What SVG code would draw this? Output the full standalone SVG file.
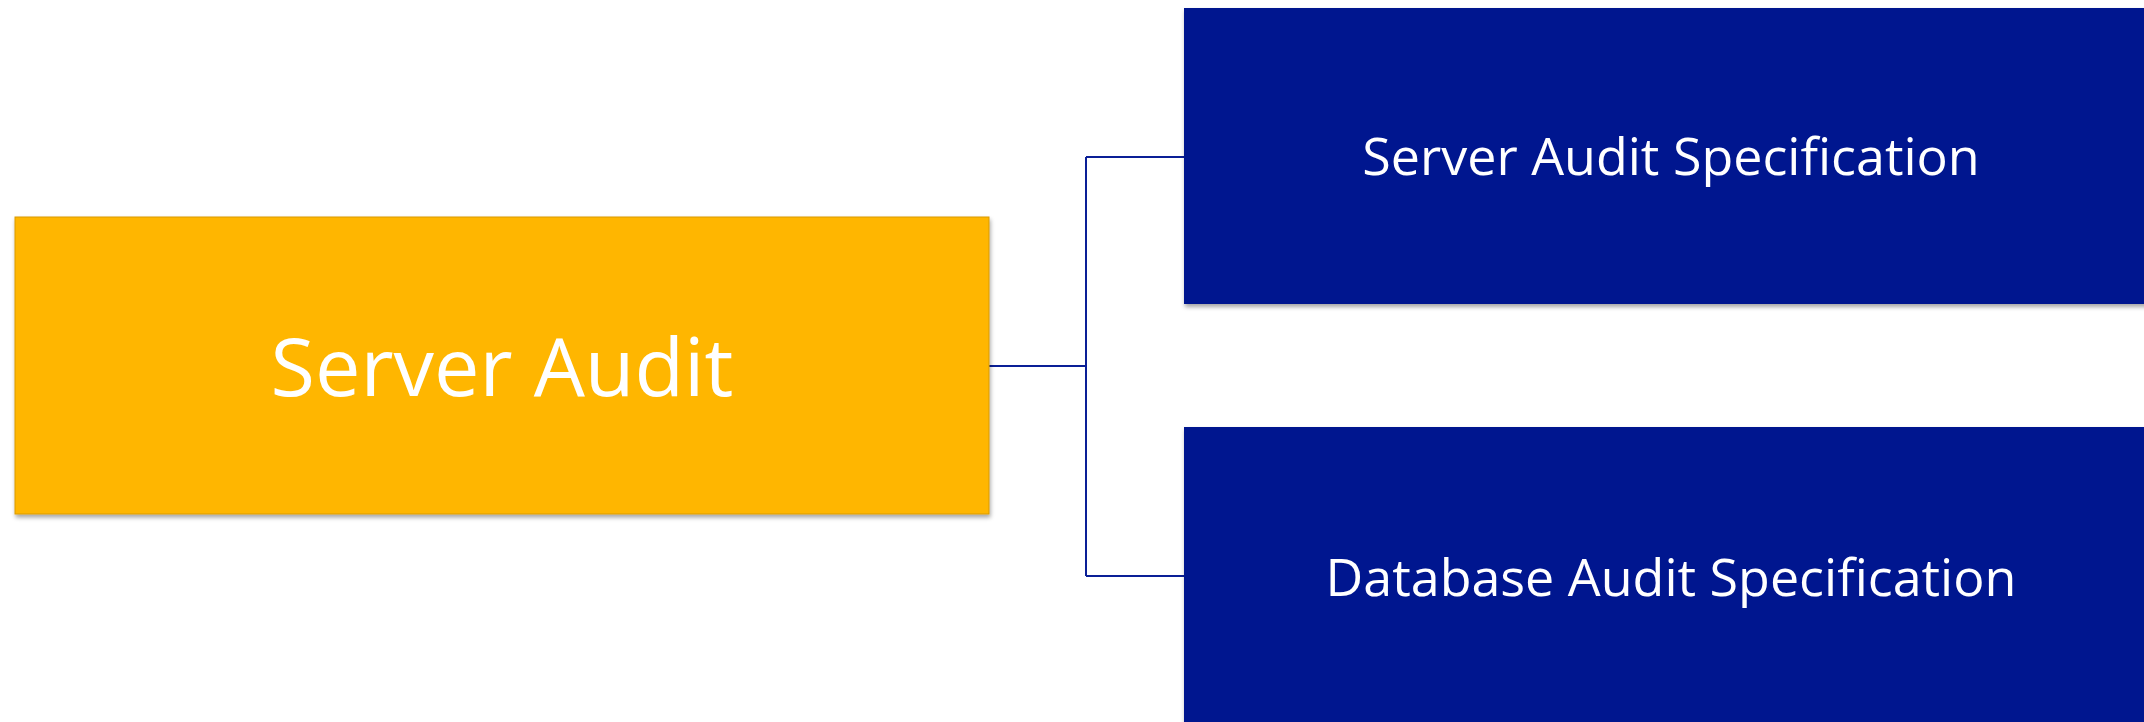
<svg xmlns="http://www.w3.org/2000/svg" width="2144" height="722" viewBox="0 0 2144 722">
<defs>
<filter id="sh" x="-5%" y="-5%" width="110%" height="115%">
<feDropShadow dx="1" dy="3" stdDeviation="2" flood-color="#000" flood-opacity="0.35"/>
</filter>
<style>
.lbl{font-family:"Open Sans","Noto Sans","Liberation Sans",sans-serif;fill:#fff;text-anchor:middle;font-weight:400}
.conn{fill:none;stroke:#0A1F96;stroke-width:2}
</style>
</defs>
<rect width="2144" height="722" fill="#fff"/>
<g id="connectors">
<path class="conn" d="M989 366 H1086 M1086 157 V576 M1086 157 H1184 M1086 576 H1184"/>
</g>
<g id="server-audit">
<rect x="15" y="217" width="974" height="297" fill="#FFB600" stroke="#D99A00" stroke-width="1" filter="url(#sh)"/>
<text class="lbl" x="502" y="396" font-size="81">Server Audit</text>
</g>
<g id="server-audit-spec">
<rect x="1184" y="8" width="970" height="296" fill="#00188F" filter="url(#sh)"/>
<text class="lbl" x="1671" y="175" font-size="52">Server Audit Specification</text>
</g>
<g id="database-audit-spec">
<rect x="1184" y="427" width="970" height="305" fill="#00188F" filter="url(#sh)"/>
<text class="lbl" x="1671" y="596" font-size="52">Database Audit Specification</text>
</g>
</svg>
